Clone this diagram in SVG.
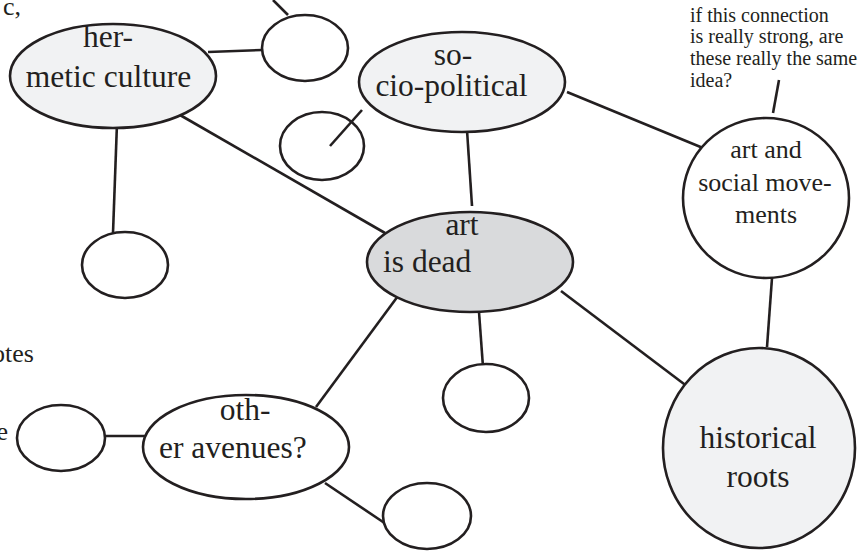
<svg xmlns="http://www.w3.org/2000/svg" width="860" height="552" viewBox="0 0 860 552">
<style>
  .n { stroke: #231f20; stroke-width: 2.6; }
  .light { fill: #f1f2f3; }
  .dark { fill: #d9dadc; }
  .white { fill: #ffffff; }
  .c { stroke: #231f20; stroke-width: 2.6; fill: none; }
  text { font-family: "Liberation Serif", "Times New Roman", serif; fill: #231f20; }
  .t { font-size: 31.5px; }
  .ts { font-size: 26px; }
  .ta { font-size: 20px; }
  .mid { text-anchor: middle; }
</style>
<rect width="860" height="552" fill="#ffffff"/>
<g id="connectors">
  <line class="c" x1="273" y1="0" x2="288" y2="15"/>
  <line class="c" x1="208" y1="52" x2="262" y2="50"/>
  <line class="c" x1="117" y1="123" x2="113" y2="233"/>
  <line class="c" x1="180" y1="115" x2="385" y2="233"/>
  <line class="c" x1="362" y1="110" x2="330" y2="146"/>
  <line class="c" x1="467" y1="130" x2="472" y2="206"/>
  <line class="c" x1="567" y1="92" x2="703" y2="148"/>
  <line class="c" x1="779" y1="80" x2="773" y2="113"/>
  <line class="c" x1="772" y1="278" x2="767" y2="347"/>
  <line class="c" x1="561" y1="291" x2="688" y2="387"/>
  <line class="c" x1="479" y1="312" x2="483" y2="367"/>
  <line class="c" x1="398" y1="296" x2="316" y2="407"/>
  <line class="c" x1="105" y1="436" x2="146" y2="436"/>
  <line class="c" x1="325" y1="483" x2="386" y2="524"/>
</g>
<g id="label-fragments">
  <text class="ts" x="3" y="15">c,</text>
  <text class="ts" x="34" y="362" text-anchor="end">otes</text>
  <text class="ts" x="8" y="440" text-anchor="end">e</text>
</g>
<g id="note">
  <text class="ta" x="690" y="21.7">if this connection</text>
  <text class="ta" x="690" y="43.4">is really strong, are</text>
  <text class="ta" x="690" y="65">these really the same</text>
  <text class="ta" x="690" y="86.8">idea?</text>
</g>
<g id="hermetic-culture">
  <ellipse class="n light" cx="113" cy="76" rx="103" ry="52"/>
  <text class="t mid" x="108" y="47">her-</text>
  <text class="t mid" x="108.5" y="87">metic culture</text>
</g>
<g id="blank-top">
  <ellipse class="n white" cx="305" cy="48" rx="43" ry="33"/>
</g>
<g id="socio-political">
  <ellipse class="n light" cx="462" cy="82" rx="103" ry="50"/>
  <text class="t mid" x="453" y="65">so-</text>
  <text class="t mid" x="451.5" y="96">cio-political</text>
</g>
<g id="blank-socio">
  <ellipse class="n white" cx="322" cy="146" rx="42" ry="34" style="fill:none"/>
</g>
<g id="blank-hermetic">
  <ellipse class="n white" cx="125" cy="265" rx="43" ry="33"/>
</g>
<g id="art-is-dead">
  <ellipse class="n dark" cx="470" cy="262" rx="103" ry="50"/>
  <text class="t mid" x="462" y="235">art</text>
  <text class="t" x="383" y="272">is dead</text>
</g>
<g id="art-social-movements">
  <ellipse class="n white" cx="766" cy="198" rx="83" ry="80"/>
  <text class="ts mid" x="766" y="158">art and</text>
  <text class="ts mid" x="765" y="191">social move-</text>
  <text class="ts mid" x="766" y="223">ments</text>
</g>
<g id="historical-roots">
  <ellipse class="n light" cx="759" cy="448" rx="96" ry="100"/>
  <text class="t mid" x="758" y="448">historical</text>
  <text class="t mid" x="758" y="487">roots</text>
</g>
<g id="blank-dead">
  <ellipse class="n white" cx="486" cy="398" rx="43" ry="34"/>
</g>
<g id="other-avenues">
  <ellipse class="n white" cx="246" cy="447" rx="103" ry="52"/>
  <text class="t mid" x="245" y="420">oth-</text>
  <text class="t" x="159" y="458">er avenues?</text>
</g>
<g id="blank-left">
  <ellipse class="n white" cx="61" cy="438" rx="44" ry="33"/>
</g>
<g id="blank-bottom">
  <ellipse class="n white" cx="427" cy="516" rx="44" ry="33"/>
</g>
</svg>
